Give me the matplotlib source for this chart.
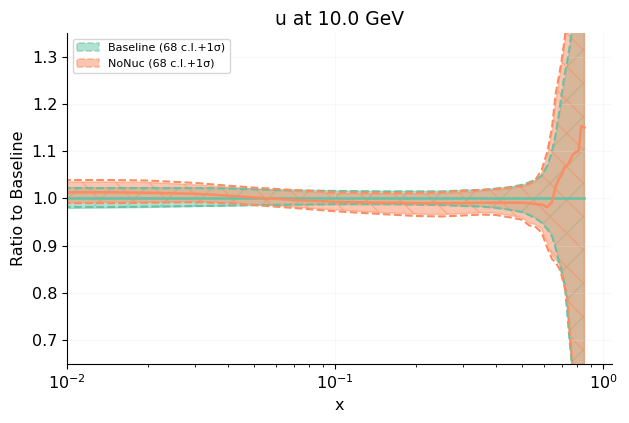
import numpy as np
import matplotlib
matplotlib.use("Agg")
import matplotlib.pyplot as plt
import matplotlib.patches as mpatches

x = [0.008, 0.01, 0.015, 0.02, 0.03, 0.04, 0.05, 0.07, 0.1, 0.15, 0.2, 0.25, 0.3, 0.35,
     0.4, 0.45, 0.5, 0.53, 0.56, 0.59, 0.62, 0.645, 0.665, 0.685, 0.70, 0.72, 0.735,
     0.75, 0.77, 0.79, 0.81, 0.83, 0.852]

base_central = [1.0] * 33
base_68_up = [1.024, 1.023, 1.023, 1.023, 1.023, 1.022, 1.020, 1.018, 1.016, 1.015, 1.015,
              1.015, 1.017, 1.018, 1.021, 1.024, 1.028, 1.033, 1.039, 1.047, 1.068, 1.095,
              1.13, 1.17, 1.21, 1.25, 1.28, 1.31, 1.36, 1.44, 1.54, 1.68, 1.83]
base_68_dn = [0.978, 0.979, 0.980, 0.981, 0.983, 0.984, 0.985, 0.986, 0.987, 0.987, 0.987,
              0.986, 0.984, 0.983, 0.980, 0.976, 0.971, 0.966, 0.959, 0.950, 0.937, 0.922,
              0.898, 0.870, 0.855, 0.82, 0.77, 0.71, 0.64, 0.57, 0.48, 0.36, 0.21]
base_sd_up = [1.023, 1.022, 1.022, 1.022, 1.022, 1.021, 1.019, 1.017, 1.016, 1.015, 1.015,
              1.015, 1.017, 1.018, 1.021, 1.024, 1.029, 1.034, 1.040, 1.048, 1.070, 1.10,
              1.135, 1.18, 1.22, 1.265, 1.29, 1.32, 1.37, 1.45, 1.55, 1.70, 1.85]
base_sd_dn = [0.981, 0.982, 0.982, 0.983, 0.984, 0.985, 0.986, 0.987, 0.988, 0.988, 0.987,
              0.986, 0.984, 0.983, 0.980, 0.976, 0.971, 0.965, 0.958, 0.949, 0.935, 0.920,
              0.895, 0.865, 0.845, 0.815, 0.76, 0.70, 0.63, 0.56, 0.47, 0.35, 0.2]

nonuc_central = [1.013, 1.013, 1.013, 1.012, 1.010, 1.006, 1.002, 0.997, 0.993, 0.991, 0.990,
                 0.990, 0.990, 0.991, 0.991, 0.991, 0.991, 0.990, 0.988, 0.987, 0.982, 0.992,
                 1.025, 1.042, 1.050, 1.068, 1.070, 1.078, 1.092, 1.098, 1.100, 1.153, 1.150]
nonuc_68_up = [1.035, 1.035, 1.035, 1.034, 1.029, 1.024, 1.020, 1.015, 1.011, 1.010, 1.010,
               1.011, 1.013, 1.015, 1.018, 1.021, 1.025, 1.029, 1.036, 1.052, 1.09, 1.14,
               1.20, 1.25, 1.28, 1.33, 1.38, 1.42, 1.5, 1.6, 1.7, 1.85, 2.0]
nonuc_68_dn = [0.991, 0.991, 0.992, 0.992, 0.993, 0.991, 0.988, 0.982, 0.976, 0.970, 0.967,
               0.966, 0.968, 0.970, 0.969, 0.964, 0.959, 0.948, 0.945, 0.935, 0.905, 0.88,
               0.872, 0.862, 0.848, 0.82, 0.80, 0.74, 0.66, 0.57, 0.48, 0.35, 0.2]
nonuc_sd_up = [1.039, 1.039, 1.039, 1.038, 1.033, 1.027, 1.023, 1.018, 1.013, 1.012, 1.012,
               1.013, 1.016, 1.018, 1.020, 1.023, 1.027, 1.031, 1.040, 1.060, 1.10, 1.15,
               1.22, 1.26, 1.29, 1.34, 1.39, 1.44, 1.52, 1.62, 1.72, 1.88, 2.05]
nonuc_sd_dn = [0.989, 0.990, 0.990, 0.991, 0.992, 0.990, 0.986, 0.980, 0.973, 0.967, 0.963,
               0.962, 0.964, 0.966, 0.965, 0.960, 0.955, 0.943, 0.940, 0.928, 0.895, 0.872,
               0.865, 0.853, 0.838, 0.81, 0.79, 0.72, 0.64, 0.55, 0.46, 0.33, 0.18]

labels = ["Baseline (68 c.l.+1σ)", "NoNuc (68 c.l.+1σ)"]
colors = ["#66c2a5", "#fc8d62"]
hatches = ["/", "\\"]
title = "u at 10.0 GeV"

series = [
    (base_central, base_68_dn, base_68_up, base_sd_dn, base_sd_up),
    (nonuc_central, nonuc_68_dn, nonuc_68_up, nonuc_sd_dn, nonuc_sd_up),
]

fig = plt.figure(figsize=(6.29, 4.23), dpi=100)
ax = fig.add_axes([0.1065, 0.1395, 0.8665, 0.7825])

handles = []
for (c, d68, u68, dsd, usd), col, h, lab in zip(series, colors, hatches, labels):
    ax.fill_between(x, d68, u68, color=col, alpha=0.5, hatch=h, zorder=1, linewidth=1)
    ax.plot(x, dsd, linestyle="--", color=col, lw=1.5)
    ax.plot(x, usd, linestyle="--", color=col, lw=1.5)
    ax.plot(x, c, color=col, lw=1.8)
    handles.append(mpatches.Patch(facecolor=col, edgecolor=col, alpha=0.5,
                                  linestyle="--", linewidth=1.2, label=lab))

ax.set_xscale("log")
ax.set_xlim(1e-2, 1.08)
ax.set_ylim(0.65, 1.35)
ax.grid(True, which="major", color="#e5e5e5", alpha=0.25, lw=0.8)
ax.spines["top"].set_visible(False)
ax.spines["right"].set_visible(False)
ax.tick_params(labelsize=11.5)
ax.set_xlabel("x", fontsize=11.5)
ax.set_ylabel("Ratio to Baseline", fontsize=11.5)
ax.set_title(title, fontsize=13.5)
ax.legend(handles=handles, loc="upper left", fontsize=8, framealpha=0.8)

fig.savefig("out.png", dpi=100)
